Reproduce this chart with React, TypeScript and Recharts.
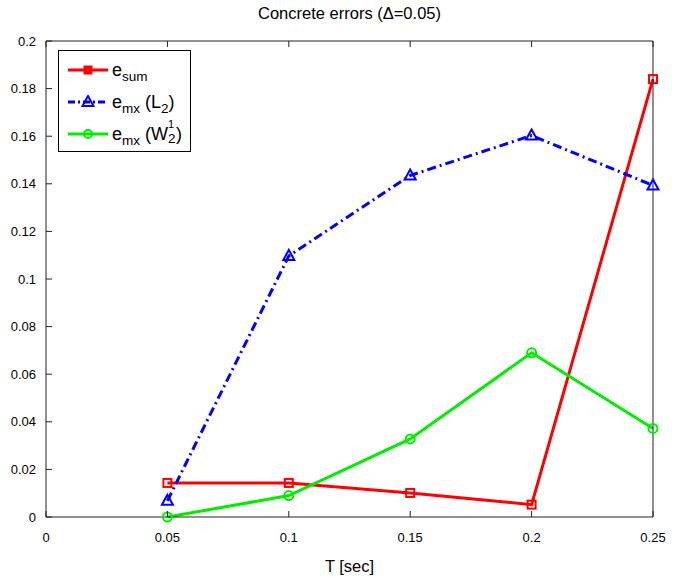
import React from "react";
import { LineChart, Line, XAxis, YAxis } from "recharts";

const tValues = [0.05, 0.1, 0.15, 0.2, 0.25];
const eSum = [0.0143, 0.0143, 0.0101, 0.0052, 0.184];
const eMxL2 = [0.0068, 0.1097, 0.1435, 0.1603, 0.1393];
const eMxW21 = [0.0, 0.009, 0.0328, 0.069, 0.0372];

const xTicks = [0, 0.05, 0.1, 0.15, 0.2, 0.25];
const yTicks = [0, 0.02, 0.04, 0.06, 0.08, 0.1, 0.12, 0.14, 0.16, 0.18, 0.2];

const data = tValues.map((t, i) => ({
  t,
  sum: eSum[i],
  l2: eMxL2[i],
  w21: eMxW21[i],
}));

const RED = "#ff0000";
const BLUE = "#0000ff";
const GREEN = "#00ee00";
const AXIS = "#222";
const FONT = "'Liberation Sans', Arial, Helvetica, sans-serif";
const TICK_LEN = 6;

const fmt = (v: number) => String(v);

function BottomTick({ x, y, payload }: any) {
  return (
    <g>
      <line x1={x} y1={y} x2={x} y2={y - TICK_LEN} stroke={AXIS} />
      <text x={x} y={y + 25} textAnchor="middle" fontSize={13} fill="#000" fontFamily={FONT}>
        {fmt(payload.value)}
      </text>
    </g>
  );
}

function TopTick({ x, y }: any) {
  return <line x1={x} y1={y} x2={x} y2={y + TICK_LEN} stroke={AXIS} />;
}

function LeftTick({ x, y, payload }: any) {
  return (
    <g>
      <line x1={x} y1={y} x2={x + TICK_LEN} y2={y} stroke={AXIS} />
      <text x={x - 10} y={y} dy="0.35em" textAnchor="end" fontSize={13} fill="#000" fontFamily={FONT}>
        {fmt(payload.value)}
      </text>
    </g>
  );
}

function RightTick({ x, y }: any) {
  return <line x1={x} y1={y} x2={x - TICK_LEN} y2={y} stroke={AXIS} />;
}

function SquareDot({ cx, cy }: any) {
  if (cx == null || cy == null) return null;
  return <rect x={cx - 4} y={cy - 4} width={8} height={8} fill="none" stroke={RED} strokeWidth={2} />;
}

function TriangleDot({ cx, cy }: any) {
  if (cx == null || cy == null) return null;
  const p = `${cx},${cy - 6} ${cx - 5.5},${cy + 4} ${cx + 5.5},${cy + 4}`;
  return <polygon points={p} fill="none" stroke={BLUE} strokeWidth={2} />;
}

function CircleDot({ cx, cy }: any) {
  if (cx == null || cy == null) return null;
  return <circle cx={cx} cy={cy} r={4.5} fill="none" stroke={GREEN} strokeWidth={2} />;
}

function LegendSample({ color, dash, marker }: { color: string; dash?: string; marker: string }) {
  return (
    <svg width={42} height={14} style={{ display: "block" }}>
      <line x1={1} y1={7} x2={41} y2={7} stroke={color} strokeWidth={3} strokeDasharray={dash} />
      {marker === "square" && <rect x={17} y={3} width={8} height={8} fill={color} stroke={color} />}
      {marker === "triangle" && (
        <polygon points="21,1 15.5,11 26.5,11" fill="none" stroke={color} strokeWidth={2} />
      )}
      {marker === "circle" && <circle cx={21} cy={7} r={4} fill="none" stroke={color} strokeWidth={2} />}
    </svg>
  );
}

const labelStyle: React.CSSProperties = { fontSize: 18, fontFamily: FONT, color: "#000", lineHeight: 1 };
const subStyle: React.CSSProperties = { fontSize: 13.5, position: "relative", top: 5 };

function ChartLegend() {
  return (
    <div
      style={{
        position: "absolute",
        left: 58,
        top: 50,
        width: 133,
        height: 102,
        border: "1px solid #000",
        background: "#fff",
        boxSizing: "border-box",
      }}
    >
      <div style={{ position: "absolute", left: 8, top: 10, display: "flex", alignItems: "center", gap: 3 }}>
        <LegendSample color={RED} marker="square" />
        <span style={labelStyle}>
          e<span style={subStyle}>sum</span>
        </span>
      </div>
      <div style={{ position: "absolute", left: 8, top: 42, display: "flex", alignItems: "center", gap: 3 }}>
        <LegendSample color={BLUE} dash="7 3 2 3" marker="triangle" />
        <span style={labelStyle}>
          e<span style={subStyle}>mx</span> (L<span style={subStyle}>2</span>)
        </span>
      </div>
      <div style={{ position: "absolute", left: 8, top: 74, display: "flex", alignItems: "center", gap: 3 }}>
        <LegendSample color={GREEN} marker="circle" />
        <span style={labelStyle}>
          e<span style={subStyle}>mx</span> (W
          <span style={{ display: "inline-block", position: "relative", width: 8, height: 17, verticalAlign: "top" }}>
            <span style={{ position: "absolute", left: 0, top: -6, fontSize: 11, lineHeight: 1 }}>1</span>
            <span style={{ position: "absolute", left: 0, top: 7, fontSize: 13.5, lineHeight: 1 }}>2</span>
          </span>
          )
        </span>
      </div>
    </div>
  );
}

export default function App() {
  return (
    <div style={{ position: "absolute", left: 0, top: 0, width: 681, height: 578, background: "#fff" }}>
      <div
        style={{
          position: "absolute",
          left: 46,
          width: 607,
          top: 4,
          textAlign: "center",
          fontSize: 16.5,
          fontFamily: FONT,
          color: "#000",
        }}
      >
        Concrete errors (Δ=0.05)
      </div>
      <LineChart width={681} height={578} data={data} margin={{ top: 40, right: 27, bottom: 60, left: 45 }}>
        <XAxis
          xAxisId="bottom"
          dataKey="t"
          type="number"
          domain={[0, 0.25]}
          ticks={xTicks}
          height={1}
          tickSize={0}
          tickMargin={0}
          tickLine={false}
          axisLine={{ stroke: AXIS }}
          tick={<BottomTick />}
          interval={0}
          label={{ value: "T [sec]", position: "bottom", offset: 42, fontSize: 16.5, fill: "#000", fontFamily: FONT }}
        />
        <XAxis
          xAxisId="top"
          orientation="top"
          dataKey="t"
          type="number"
          domain={[0, 0.25]}
          ticks={xTicks}
          height={1}
          tickSize={0}
          tickMargin={0}
          tickLine={false}
          axisLine={{ stroke: AXIS }}
          tick={<TopTick />}
          interval={0}
        />
        <YAxis
          yAxisId="left"
          type="number"
          domain={[0, 0.2]}
          ticks={yTicks}
          width={1}
          tickSize={0}
          tickMargin={0}
          tickLine={false}
          axisLine={{ stroke: AXIS }}
          tick={<LeftTick />}
          interval={0}
        />
        <YAxis
          yAxisId="right"
          orientation="right"
          type="number"
          domain={[0, 0.2]}
          ticks={yTicks}
          width={1}
          tickSize={0}
          tickMargin={0}
          tickLine={false}
          axisLine={{ stroke: AXIS }}
          tick={<RightTick />}
          interval={0}
        />
        <Line
          xAxisId="bottom"
          yAxisId="left"
          dataKey="sum"
          type="linear"
          stroke={RED}
          strokeWidth={3}
          dot={<SquareDot />}
          isAnimationActive={false}
        />
        <Line
          xAxisId="bottom"
          yAxisId="left"
          dataKey="l2"
          type="linear"
          stroke={BLUE}
          strokeWidth={3}
          strokeDasharray="9 4 2 4"
          dot={<TriangleDot />}
          isAnimationActive={false}
        />
        <Line
          xAxisId="bottom"
          yAxisId="left"
          dataKey="w21"
          type="linear"
          stroke={GREEN}
          strokeWidth={3}
          dot={<CircleDot />}
          isAnimationActive={false}
        />
      </LineChart>
      <ChartLegend />
    </div>
  );
}
